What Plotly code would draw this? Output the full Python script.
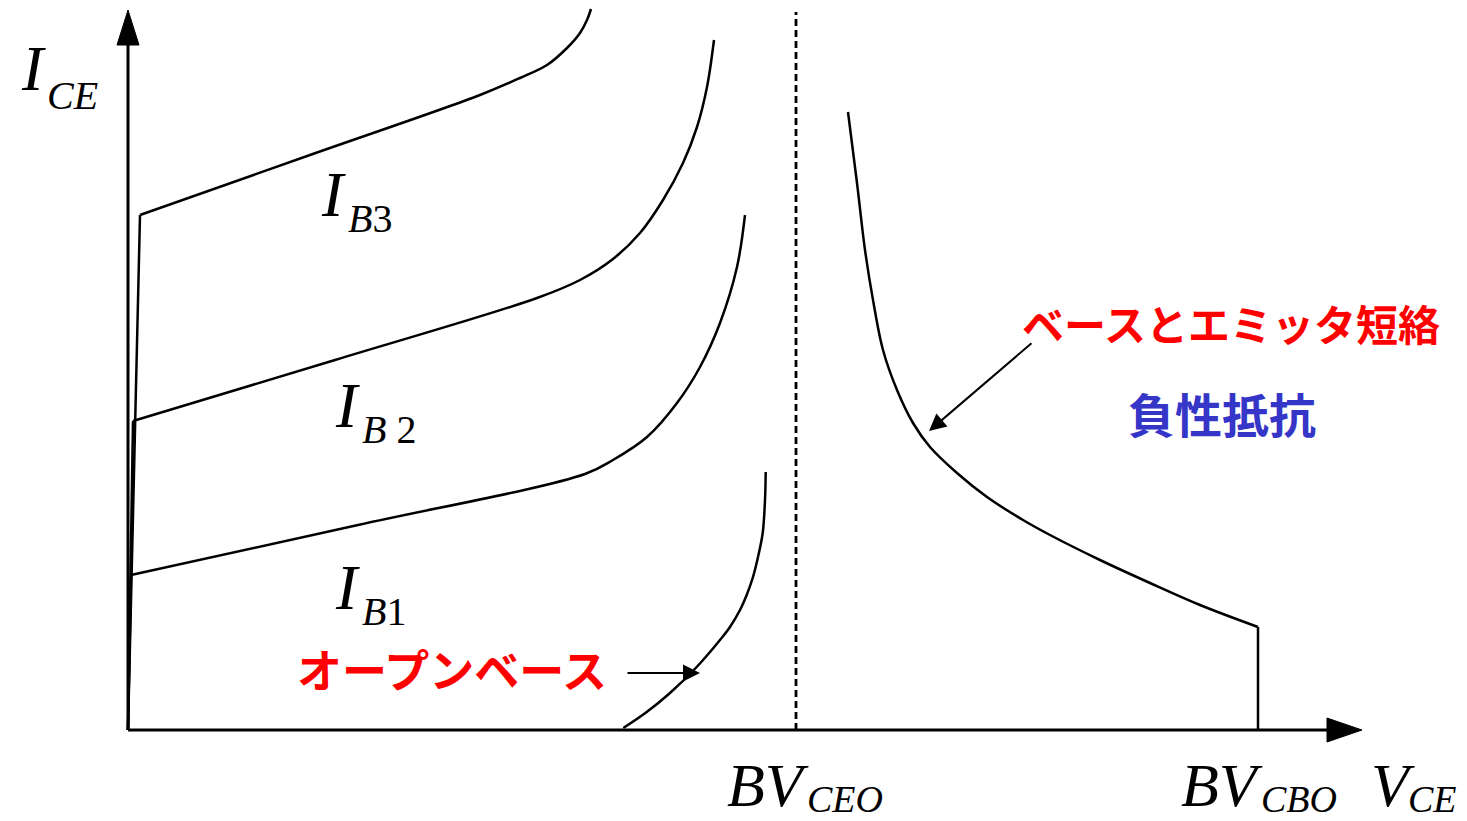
import plotly.graph_objects as go

# Axis extents (V to the right, I upward), in drawing units
V_MAX = 1234          # tip of the V_CE arrow
I_MAX = 720           # tip of the I_CE arrow
BV_CEO = 668
BV_CBO = 1130

# I_B3 characteristic: steep rise, then linear region running into the avalanche knee
ib3_rise_v = [0, 12]
ib3_rise_i = [0, 515]
ib3_v = [12, 182, 352, 392, 419, 439, 452, 459, 463]
ib3_i = [515, 575, 635, 652, 665, 682, 697, 710, 721]

# I_B2 characteristic
ib2_rise_v = [0, 5]
ib2_rise_i = [0, 309]
ib2_v = [5, 207, 409, 452, 485, 512, 535, 555, 569, 579, 586]
ib2_i = [309, 370, 432, 450, 471, 497, 530, 567, 603, 643, 690]

# I_B1 characteristic
ib1_rise_v = [0, 3]
ib1_rise_i = [0, 155]
ib1_v = [3, 230, 457, 485, 519, 549, 572, 592, 609, 617]
ib1_i = [155, 205, 256, 270, 293, 327, 363, 407, 463, 515]

# Open-base breakdown curve
open_v = [495.3, 518.7, 542, 568.7, 592, 602, 612, 618.7, 625, 630, 634.7, 637, 637.7]
open_i = [2, 18, 37, 63, 90, 103, 120, 135, 153, 173, 197, 230, 258]

# Base-emitter shorted: negative resistance branch
neg_v = [720, 729, 737, 745, 755, 769, 785, 802, 829, 859, 895, 922, 972, 1022, 1072, BV_CBO]
neg_i = [618, 547, 480, 430, 380, 340, 307, 283, 257, 233, 210, 195, 170, 147, 125, 103]

BLACK = "#000000"
RED = "#FF0000"
BLUE = "#3535C8"
SERIF = "Liberation Serif"
JP = "Noto Sans CJK JP"
LW = 2.5

fig = go.Figure()


def add_line(v, i, shape="linear", width=LW, dash="solid"):
    fig.add_trace(go.Scatter(
        x=v, y=i, mode="lines",
        line=dict(color=BLACK, width=width, shape=shape, dash=dash, smoothing=1.0),
        hoverinfo="skip", showlegend=False,
    ))


# Axes
add_line([0, 0], [0, I_MAX - 32], width=3)
add_line([0, V_MAX - 32], [0, 0], width=3)
# Arrowheads on axes
fig.add_trace(go.Scatter(x=[-11, 0, 11, -11], y=[I_MAX - 35, I_MAX, I_MAX - 35, I_MAX - 35],
                         mode="lines", fill="toself", fillcolor=BLACK,
                         line=dict(color=BLACK, width=1), hoverinfo="skip", showlegend=False))
fig.add_trace(go.Scatter(x=[V_MAX - 35, V_MAX, V_MAX - 35, V_MAX - 35], y=[-12, 0, 12, -12],
                         mode="lines", fill="toself", fillcolor=BLACK,
                         line=dict(color=BLACK, width=1), hoverinfo="skip", showlegend=False))

# Characteristic curves
for rv, ri, cv, ci in [
    (ib3_rise_v, ib3_rise_i, ib3_v, ib3_i),
    (ib2_rise_v, ib2_rise_i, ib2_v, ib2_i),
    (ib1_rise_v, ib1_rise_i, ib1_v, ib1_i),
]:
    add_line(rv, ri)
    add_line(cv, ci, shape="spline")

add_line(open_v, open_i, shape="spline")
add_line(neg_v, neg_i, shape="spline")
add_line([BV_CBO, BV_CBO], [neg_i[-1], 0])

# BV_CEO marker
add_line([BV_CEO, BV_CEO], [0, 718], width=2.8, dash="7px,4px")

# Callout arrows
fig.add_annotation(x=572, y=57, ax=498, ay=57, xref="x", yref="y", axref="x", ayref="y",
                   showarrow=True, arrowhead=2, arrowsize=1.7, arrowwidth=2,
                   arrowcolor=BLACK, text="")
fig.add_annotation(x=801, y=299, ax=905, ay=388, xref="x", yref="y", axref="x", ayref="y",
                   showarrow=True, arrowhead=2, arrowsize=1.7, arrowwidth=2,
                   arrowcolor=BLACK, text="")


def label(main, sub, x, y, dx, dy, size=64, sub_size=40, bottom=False):
    fig.add_annotation(x=x, y=y, text=main, showarrow=False, xref="x", yref="y",
                       xanchor="center", yanchor="middle",
                       font=dict(family=SERIF, size=size, color=BLACK, style="italic"))
    if bottom:
        fig.add_annotation(x=x + dx, y=-91, text=sub, showarrow=False, xref="x", yref="y",
                           xanchor="left", yanchor="bottom", borderpad=0,
                           font=dict(family=SERIF, size=sub_size, color=BLACK, style="italic"))
    else:
        fig.add_annotation(x=x + dx, y=y - dy, text=sub, showarrow=False, xref="x", yref="y",
                           xanchor="left", yanchor="middle",
                           font=dict(family=SERIF, size=sub_size, color=BLACK, style="normal"))


label("I", "<i>CE</i>", -95, 662, 12, 27)
label("I", "<i>B</i>3", 205, 536, 13, 24)
label("I", "<i>B</i> 2", 219, 325, 13, 24)
label("I", "<i>B</i>1", 219, 143, 13, 24)
label("BV", "CEO", 640, -55, 38, 0, size=62, sub_size=38, bottom=True)
label("BV", "CBO", 1094, -55, 38, 0, size=62, sub_size=38, bottom=True)
label("V", "CE", 1265, -55, 14, 0, size=62, sub_size=38, bottom=True)

# Japanese annotations
fig.add_annotation(x=324, y=62, text="<b>オープンベース</b>", showarrow=False,
                   xanchor="center", yanchor="middle",
                   font=dict(family=JP, size=45, color=RED))
fig.add_annotation(x=1103, y=408, text="<b>ベースとエミッタ短絡</b>", showarrow=False,
                   xanchor="center", yanchor="middle",
                   font=dict(family=JP, size=42, color=RED))
fig.add_annotation(x=1094, y=318, text="<b>負性抵抗</b>", showarrow=False,
                   xanchor="center", yanchor="middle",
                   font=dict(family=JP, size=47, color=BLUE))

fig.update_layout(
    width=1467, height=821,
    margin=dict(l=0, r=0, t=0, b=0),
    paper_bgcolor="white", plot_bgcolor="white",
    xaxis=dict(range=[-128, 1339], visible=False, fixedrange=True),
    yaxis=dict(range=[-91, 730], visible=False, fixedrange=True),
)

fig.write_html("out.html")
